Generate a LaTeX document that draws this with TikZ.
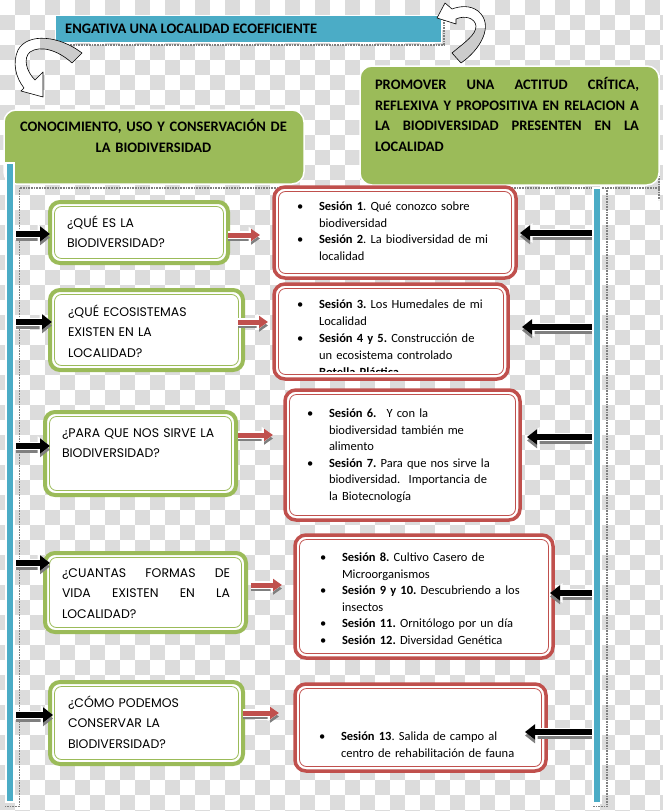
\documentclass[tikz,border=0pt]{standalone}
\usepackage{fontspec}
\setmainfont{Carlito}
\newfontfamily\qfont{Poppins}
\usetikzlibrary{arrows.meta,calc}
\frenchspacing
\definecolor{cblue}{HTML}{4BACC6}
\definecolor{cgreen}{HTML}{9BBB59}
\definecolor{cred}{HTML}{C0504D}
\definecolor{cchk}{HTML}{DCDCDC}
\definecolor{cshad}{HTML}{7F7F7F}
\newcommand\bl{\makebox[22pt][l]{\textbullet}}
\newcommand\ind{\hspace*{22pt}}
\newcommand\conn[3]{%
  \draw[#1shad] #2 -- #3;
  \draw[#1out] #2 -- #3;
  \draw[#1main] #2 -- #3;}
\newcommand\innerline[3]{\draw[#1, line width=0.8pt, rounded corners=7pt] ([shift={(#3,#3)}]#2.north west) rectangle ([shift={(-#3,-#3)}]#2.south east);}
\tikzset{
  qbox/.style={draw=cgreen, line width=4pt, fill=white, rounded corners=10pt, anchor=north west, inner sep=0pt, outer sep=0pt},
  sbox/.style={draw=cred, line width=3.5pt, fill=white, rounded corners=11pt, anchor=north west, inner sep=0pt, outer sep=0pt},
  hdrbox/.style={fill=cgreen, draw=white, line width=1.5pt, rounded corners=12pt, anchor=north west, inner sep=0pt, outer sep=0pt},
  barbox/.style={fill=cblue, draw=white, line width=1.5pt, anchor=north west, inner sep=0pt, outer sep=0pt, minimum width=8pt},
  shadline/.style={cshad, line width=1.3pt, dash pattern=on 0.8pt off 0.8pt},
  blkmain/.style={black, line width=6pt, -{Triangle[length=10pt,width=15pt]}},
  blkout/.style={white, line width=8.5pt, -{Triangle[length=12.5pt,width=19pt]}},
  blkshad/.style={cshad, line width=6pt, -{Triangle[length=10pt,width=15pt]}, transform canvas={yshift=-3.5pt}},
  redmain/.style={cred, line width=5pt, -{Triangle[length=9pt,width=12pt]}},
  redout/.style={white, line width=7.5pt, -{Triangle[length=11.5pt,width=16pt]}},
  redshad/.style={cshad, line width=5pt, -{Triangle[length=9pt,width=12pt]}, transform canvas={yshift=-3.5pt}},
  qtext/.style={font=\qfont\fontsize{12.5}{20.3}\selectfont, anchor=north west, inner sep=0pt, outer sep=0pt, yshift=14.2pt, align=left, text width=200pt, execute at begin node=\strut},
  stext/.style={font=\fontsize{12.5}{16.5}\selectfont, anchor=north west, inner sep=0pt, outer sep=0pt, yshift=11.55pt, align=left, text width=240pt, execute at begin node=\strut},
  htext/.style={font=\bfseries\fontsize{14.5}{20.5}\selectfont, inner sep=0pt, outer sep=0pt, yshift=14.35pt, execute at begin node=\strut},
}
\begin{document}
\begin{tikzpicture}[x=1pt,y=-1pt]
\useasboundingbox (0,0) rectangle (662,811);
\fill[white] (0,0) rectangle (662,811);
% checkerboard background
\foreach \j in {0,...,54}{%
  \pgfmathtruncatemacro\off{mod(\j+1,2)}%
  \foreach \k in {0,...,22}{\fill[cchk] ({(2*\k+\off)*15},{\j*15}) rectangle ++(15,15);}}
% shadow frame
\draw[shadline] (19.5,188) -- (19.5,806.5) -- (5,806.5);
\draw[shadline] (607,188) -- (607,806.5) -- (592,806.5);
\draw[shadline] (19.5,188) -- (660,188);
\draw[shadline] (659,176) -- (659,200);
% banner
\draw[shadline] (60,45) -- (444,45) -- (444,20);
\node[fill=cblue, draw=white, line width=1pt, anchor=north west, inner sep=0pt, outer sep=0pt, minimum width=386pt, minimum height=27pt] (ban) at (55,15) {};
\node[font=\bfseries\fontsize{14.5}{16}\selectfont, anchor=base west, inner sep=0pt] (bant) at (65,33) {ENGATIVA UNA LOCALIDAD ECOEFICIENTE};
% header boxes
\node[hdrbox, minimum width=300pt, minimum height=74pt] (hl) at (4,110) {};
\node[hdrbox, minimum width=299pt, minimum height=119pt] (hr) at (360,66) {};
\node[htext, anchor=north, align=center, text width=300pt] (hlt) at (153.5,131.5) {CONOCIMIENTO, USO Y CONSERVACIÓN DE\\LA BIODIVERSIDAD};
\node[htext, anchor=north west, align=left, text width=270pt] (hrt) at (375,89.5) {\makebox[264pt][s]{PROMOVER\hfill UNA\hfill ACTITUD\hfill CRÍTICA,}\\\makebox[264pt][s]{REFLEXIVA\hfill Y\hfill PROPOSITIVA\hfill EN\hfill RELACION\hfill A}\\\makebox[264pt][s]{LA\hfill BIODIVERSIDAD\hfill PRESENTEN\hfill EN\hfill LA}\\LOCALIDAD};
% curved arrows
\def\lcurve{(82,53) .. controls (60,36) and (28,32) .. (18,50) .. controls (12,63) and (16,78) .. (24,88) -- (21,91) -- (43,97) -- (43,72) -- (35,80) .. controls (26,71) and (23,58) .. (30,52) .. controls (40,45) and (58,50) .. (72,63) -- cycle}
\fill[white] \lcurve;
\begin{scope}\clip (40,0) rectangle (100,70); \fill[gray!40] \lcurve; \end{scope}
\draw[black, line width=0.6pt, line join=round] \lcurve;
\def\rcurve{(452,53) -- (461,63) .. controls (480,50) and (495,25) .. (478,11) .. controls (470,5) and (460,6) .. (452,9) -- (445,3) -- (437,18) -- (456,24) -- (456,19) .. controls (465,15) and (475,18) .. (476,26) .. controls (476,35) and (465,42) .. (452,53) -- cycle}
\fill[white] \rcurve;
\begin{scope}\clip (430,28) rectangle (500,70); \fill[gray!40] \rcurve; \end{scope}
\draw[black, line width=0.6pt, line join=round] \rcurve;
% bars
\node[barbox, minimum height=639pt] (lbar) at (6,163) {};
\node[barbox, minimum height=615pt] (rbar) at (593,188) {};
% question boxes
\node[qbox, minimum width=178pt, minimum height=61pt] (q1) at (50,202) {};
\node[qbox, minimum width=193pt, minimum height=80pt] (q2) at (50,290) {};
\node[qbox, minimum width=191pt, minimum height=83pt] (q3) at (45,412) {};
\node[qbox, minimum width=201pt, minimum height=79pt] (q4) at (45,553) {};
\node[qbox, minimum width=193pt, minimum height=82pt] (q5) at (50,682) {};
\foreach \n in {q1,q2,q3,q4,q5}{\innerline{cgreen}{\n}{4.5}}
% session boxes
\node[sbox, minimum width=242pt, minimum height=91pt] (s1) at (274,187) {};
\node[sbox, minimum width=234pt, minimum height=95pt] (s2) at (274,284) {};
\node[sbox, minimum width=235pt, minimum height=130pt] (s3) at (285,390) {};
\node[sbox, minimum width=258pt, minimum height=123pt] (s4) at (295,535) {};
\node[sbox, minimum width=251pt, minimum height=87pt] (s5) at (295,684) {};
\foreach \n in {s1,s2,s3,s4,s5}{\innerline{cred}{\n}{4.5}}
% question texts
\node[qtext] (q1t) at (67,227.5) {¿QUÉ ES LA\\BIODIVERSIDAD?};
\node[qtext] (q2t) at (68,316.5) {¿QUÉ ECOSISTEMAS\\EXISTEN EN LA\\LOCALIDAD?};
\node[qtext] (q3t) at (62,437.5) {¿PARA QUE NOS SIRVE LA\\BIODIVERSIDAD?};
\node[qtext] (q4t) at (62,577.5) {\makebox[168pt][s]{¿CUANTAS\hfill FORMAS\hfill DE}\\\makebox[168pt][s]{VIDA\hfill EXISTEN\hfill EN\hfill LA}\\LOCALIDAD?};
\node[qtext] (q5t) at (68,707.5) {¿CÓMO PODEMOS\\CONSERVAR LA\\BIODIVERSIDAD?};
% session texts
\node[stext] (s1t) at (297,210.5) {\bl\textbf{Sesión 1}. Qué conozco sobre\\\ind biodiversidad\\\bl\textbf{Sesión 2}. La biodiversidad de mi\\\ind localidad};
\begin{scope}
\clip (274,284) rectangle (510,371.5);
\node[stext, font=\fontsize{12.5}{17}\selectfont] (s2t) at (297,308.5) {\bl\textbf{Sesión 3.} Los Humedales de mi\\\ind Localidad\\\bl\textbf{Sesión 4 y 5.} Construcción de\\\ind un ecosistema controlado\\\ind\textbf{Botella Plástica}};
\end{scope}
\node[stext] (s3t) at (307,417.5) {\bl\textbf{Sesión 6.}\hspace{10pt}Y con la\\\ind biodiversidad también me\\\ind alimento\\\bl\textbf{Sesión 7.} Para que nos sirve la\\\ind biodiversidad.\ \ Importancia de\\\ind la Biotecnología};
\node[stext] (s4t) at (320,561.5) {\bl\textbf{Sesión 8.} Cultivo Casero de\\\ind Microorganismos\\\bl\textbf{Sesión 9 y 10.} Descubriendo a los\\\ind insectos\\\bl\textbf{Sesión 11.} Ornitólogo por un día\\\bl\textbf{Sesión 12.} Diversidad Genética};
\node[stext] (s5t) at (319,740.5) {\bl\textbf{Sesión 13}. Salida de campo al\\\ind centro de rehabilitación de fauna};
% connector heights
\coordinate (y1) at (0,234); \coordinate (y2) at (0,322); \coordinate (y3) at (0,446); \coordinate (y4) at (0,563); \coordinate (y5) at (0,715);
\coordinate (r1) at (0,235); \coordinate (r2) at (0,322); \coordinate (r3) at (0,435); \coordinate (r4) at (0,585); \coordinate (r5) at (0,713);
\coordinate (k1) at (0,233); \coordinate (k2) at (0,327); \coordinate (k3) at (0,437); \coordinate (k4) at (0,593); \coordinate (k5) at (0,732);
% black arrows from left bar
\conn{blk}{($(lbar.east |- y1)+(2,0)$)}{(q1.west |- y1)}
\conn{blk}{($(lbar.east |- y2)+(2,0)$)}{($(q2.west |- y2)+(2,0)$)}
\conn{blk}{($(lbar.east |- y3)+(2,0)$)}{($(q3.west |- y3)+(5,0)$)}
\conn{blk}{($(lbar.east |- y4)+(2,0)$)}{($(q4.west |- y4)+(5,0)$)}
\conn{blk}{($(lbar.east |- y5)+(2,0)$)}{($(q5.west |- y5)+(3,0)$)}
% red arrows
\conn{red}{(q1.east |- r1)}{($(s1.west |- r1)+(-14,0)$)}
\conn{red}{($(q2.east |- r2)+(-5,0)$)}{($(s2.west |- r2)+(-6,0)$)}
\conn{red}{($(q3.east |- r3)+(2,0)$)}{($(s3.west |- r3)+(-12,0)$)}
\conn{red}{($(q4.east |- r4)+(5,0)$)}{($(s4.west |- r4)+(-13,0)$)}
\conn{red}{(q5.east |- r5)}{($(s5.west |- r5)+(-16,0)$)}
% black arrows from right bar
\conn{blk}{($(rbar.west |- k1)+(-1,0)$)}{($(s1.east |- k1)+(4,0)$)}
\conn{blk}{($(rbar.west |- k2)+(-1,0)$)}{($(s2.east |- k2)+(14,0)$)}
\conn{blk}{($(rbar.west |- k3)+(-1,0)$)}{($(s3.east |- k3)+(7,0)$)}
\conn{blk}{($(rbar.west |- k4)+(-1,0)$)}{($(s4.east |- k4)+(-3,0)$)}
\conn{blk}{($(rbar.west |- k5)+(-1,0)$)}{($(s5.east |- k5)+(-21,0)$)}
\end{tikzpicture}
\end{document}
